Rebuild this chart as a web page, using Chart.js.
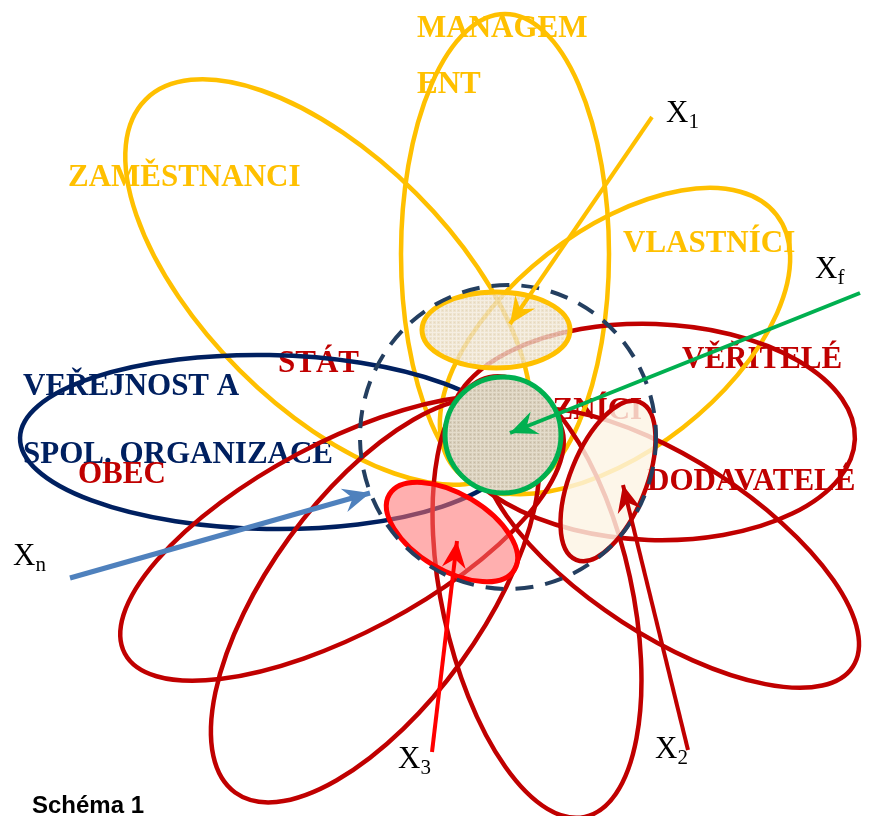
<!DOCTYPE html>
<html>
<head>
<meta charset="utf-8">
<script src="https://cdn.jsdelivr.net/npm/chart.js@4.4.1/dist/chart.umd.min.js"></script>
<style>
  html, body { margin: 0; padding: 0; background: #ffffff; }
  #wrap { width: 871px; height: 816px; position: relative; }
</style>
</head>
<body>
<div id="wrap"><canvas id="schema"></canvas></div>
<script>
// Stakeholder "petals": centre, semi-axes, rotation (deg).
// yellow: ZAMĚSTNANCI, MANAGEMENT, VLASTNÍCI
const yellowCx = [328, 505, 615];
const yellowCy = [282, 254, 341];
const yellowA = [258, 240, 205];
const yellowB = [125, 104, 110];
const yellowRot = [45, 90, -38];

// navy: VEŘEJNOST A SPOL. ORGANIZACE
const navyCx = [268];
const navyCy = [442];
const navyA = [248];
const navyB = [87];
const navyRot = [1];

// dark red petals (lower-left x2, down, lower-right, right)
const redCx = [342, 375, 537, 670, 652];
const redCy = [538, 600, 597, 548, 432];
const redA = [246, 238, 225, 218, 203];
const redB = [95, 106, 95, 88, 108];
const redRot = [-28, -54, 77.7, 33, 2];

// target areas: X1 (beige), X3 (pink), X2 (cream)
const targetCx = [496, 452, 608];
const targetCy = [330, 532, 481];
const targetA = [74, 73, 85];
const targetB = [38, 38, 38];
const targetRot = [0, 31, -68];

// core (green circle) and the dashed boundary
const coreCx = 503, coreCy = 435, coreR = 58;
const boundCx = 508, boundCy = 437, boundA = 148, boundB = 152;

// influences X1, Xf, Xn, X3, X2
const arrowSub = ['1', 'f', 'n', '3', '2'];
const arrowFromX = [652, 860, 70, 432, 688];
const arrowFromY = [117, 293, 578, 752, 750];
const arrowToX = [510, 510, 370, 457, 623];
const arrowToY = [324, 433, 493, 541, 485];
const arrowLabelX = [666, 815, 13, 398, 655];
const arrowLabelY = [122, 278, 565, 768, 758];

// group labels
const groupLabels = ['MANAGEM', 'ENT', 'ZAMĚSTNANCI', 'VLASTNÍCI', 'VĚŘITELÉ', 'ZÁKAZNÍCI', 'DODAVATELÉ', 'STÁT', 'VEŘEJNOST A', 'SPOL. ORGANIZACE', 'OBEC'];
const groupLabelX = [417, 417, 68, 623, 682, 463, 647, 278, 23, 23, 78];
const groupLabelY = [37, 93, 186, 252, 368, 419, 490, 372, 395, 463, 483];
const groupLabelGroup = ['y', 'y', 'y', 'y', 'r', 'r', 'r', 'r', 'n', 'n', 'r'];

const YELLOW = '#FFC000';
const NAVY = '#002060';
const DARKRED = '#C00000';
const GREEN = '#00B050';
const labelColors = { y: YELLOW, r: DARKRED, n: NAVY };
const arrowColors = [YELLOW, GREEN, '#4F81BD', '#FF0000', DARKRED];

// woven texture for the beige fills
function linen(base, light, dark) {
    const c = document.createElement('canvas');
    c.width = 4; c.height = 4;
    const g = c.getContext('2d');
    g.fillStyle = base; g.fillRect(0, 0, 4, 4);
    g.fillStyle = light; g.fillRect(0, 0, 4, 1); g.fillRect(0, 0, 1, 4);
    g.fillStyle = dark; g.fillRect(2, 2, 1, 1);
    return c;
}

const schemaPlugin = {
    id: 'schema',
    beforeDatasetsDraw(chart) {
        const ctx = chart.ctx;
        const sx = chart.scales.x, sy = chart.scales.y;
        const px = v => sx.getPixelForValue(v);
        const py = v => sy.getPixelForValue(v);
        const oval = (cx, cy, a, b, rot) => {
            ctx.beginPath();
            ctx.ellipse(px(cx), py(cy), Math.abs(px(cx + a) - px(cx)), Math.abs(py(cy + b) - py(cy)), rot * Math.PI / 180, 0, Math.PI * 2);
        };

        ctx.save();
        // labels sit under the shapes
        ctx.font = 'bold 31px "Liberation Serif", "Times New Roman", serif';
        ctx.textBaseline = 'alphabetic';
        groupLabels.forEach((t, i) => {
            ctx.fillStyle = labelColors[groupLabelGroup[i]];
            ctx.fillText(t, px(groupLabelX[i]), py(groupLabelY[i]));
        });

        ctx.lineWidth = 4.5;
        ctx.strokeStyle = YELLOW;
        yellowCx.forEach((_, i) => { oval(yellowCx[i], yellowCy[i], yellowA[i], yellowB[i], yellowRot[i]); ctx.stroke(); });
        ctx.strokeStyle = NAVY;
        navyCx.forEach((_, i) => { oval(navyCx[i], navyCy[i], navyA[i], navyB[i], navyRot[i]); ctx.stroke(); });
        ctx.strokeStyle = DARKRED;
        redCx.forEach((_, i) => { oval(redCx[i], redCy[i], redA[i], redB[i], redRot[i]); ctx.stroke(); });

        // core
        const corePat = ctx.createPattern(linen('#D6CCB8', '#E4DCCB', '#C4B8A2'), 'repeat');
        oval(coreCx, coreCy, coreR, coreR, 0);
        ctx.fillStyle = corePat; ctx.fill();
        ctx.lineWidth = 5; ctx.strokeStyle = GREEN; ctx.stroke();

        // X1 target (beige, see-through)
        const beigePat = ctx.createPattern(linen('#EADCC0', '#F3EADA', '#DECDAC'), 'repeat');
        oval(targetCx[0], targetCy[0], targetA[0], targetB[0], targetRot[0]);
        ctx.globalAlpha = 0.78; ctx.fillStyle = beigePat; ctx.fill(); ctx.globalAlpha = 1;
        ctx.lineWidth = 5; ctx.strokeStyle = YELLOW; ctx.stroke();

        // X3 target (pink)
        oval(targetCx[1], targetCy[1], targetA[1], targetB[1], targetRot[1]);
        ctx.fillStyle = 'rgba(255, 110, 110, 0.55)'; ctx.fill();
        ctx.lineWidth = 5; ctx.strokeStyle = '#FF0000'; ctx.stroke();

        // X2 target (cream)
        oval(targetCx[2], targetCy[2], targetA[2], targetB[2], targetRot[2]);
        ctx.fillStyle = 'rgba(253, 244, 228, 0.82)'; ctx.fill();
        ctx.lineWidth = 4.5; ctx.strokeStyle = DARKRED; ctx.stroke();

        // dashed boundary
        oval(boundCx, boundCy, boundA, boundB, 0);
        ctx.setLineDash([18, 12]);
        ctx.lineWidth = 4; ctx.strokeStyle = '#243F60'; ctx.stroke();
        ctx.setLineDash([]);
        ctx.restore();
    },
    afterDatasetsDraw(chart) {
        const ctx = chart.ctx;
        const sx = chart.scales.x, sy = chart.scales.y;
        const px = v => sx.getPixelForValue(v);
        const py = v => sy.getPixelForValue(v);
        ctx.save();
        // stealth arrowheads
        arrowToX.forEach((_, i) => {
            const tx = px(arrowToX[i]), ty = py(arrowToY[i]);
            const fx = px(arrowFromX[i]), fy = py(arrowFromY[i]);
            const len = Math.hypot(tx - fx, ty - fy);
            const ux = (tx - fx) / len, uy = (ty - fy) / len;
            const nx = -uy, ny = ux;
            const L = 27, W = 12, notch = 9;
            ctx.beginPath();
            ctx.moveTo(tx, ty);
            ctx.lineTo(tx - L * ux + W * nx, ty - L * uy + W * ny);
            ctx.lineTo(tx - (L - notch) * ux, ty - (L - notch) * uy);
            ctx.lineTo(tx - L * ux - W * nx, ty - L * uy - W * ny);
            ctx.closePath();
            ctx.fillStyle = arrowColors[i];
            ctx.fill();
        });
        // X labels with subscripts
        ctx.fillStyle = '#000000';
        arrowSub.forEach((s, i) => {
            const x = px(arrowLabelX[i]), y = py(arrowLabelY[i]);
            ctx.font = '31px "Liberation Serif", "Times New Roman", serif';
            ctx.fillText('X', x, y);
            const w = ctx.measureText('X').width;
            ctx.font = '21px "Liberation Serif", "Times New Roman", serif';
            ctx.fillText(s, x + w, y + 6);
        });
        // caption
        ctx.font = 'bold 24px "Liberation Sans", Arial, sans-serif';
        ctx.fillText('Schéma 1', px(32), py(813));
        ctx.restore();
    }
};

const datasets = arrowSub.map((s, i) => ({
    label: 'X' + s,
    data: [{ x: arrowFromX[i], y: arrowFromY[i] }, { x: arrowToX[i], y: arrowToY[i] }],
    showLine: true,
    borderColor: arrowColors[i],
    borderWidth: i === 2 ? 5 : 4,
    pointRadius: 0,
    borderCapStyle: 'butt'
}));

new Chart(document.getElementById('schema').getContext('2d'), {
    type: 'scatter',
    data: { datasets },
    options: {
        responsive: true,
        maintainAspectRatio: false,
        animation: false,
        events: [],
        layout: { padding: 0 },
        scales: {
            x: { type: 'linear', min: 0, max: 871, display: false },
            y: { type: 'linear', min: 0, max: 816, reverse: true, display: false }
        },
        plugins: {
            legend: { display: false },
            tooltip: { enabled: false }
        }
    },
    plugins: [schemaPlugin]
});
</script>
</body>
</html>
